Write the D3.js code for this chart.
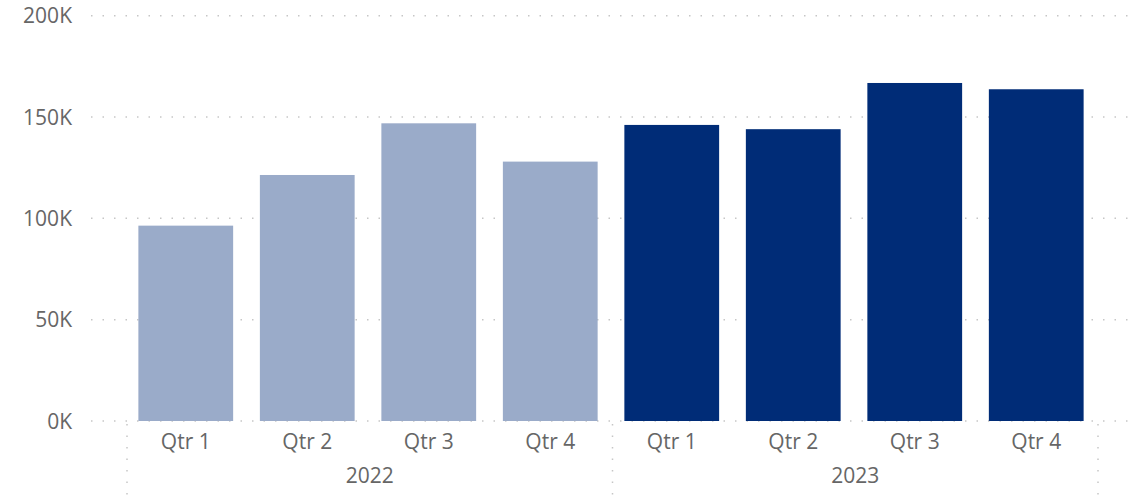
<!DOCTYPE html>
<html>
<head>
<meta charset="utf-8">
<script src="https://cdn.jsdelivr.net/npm/d3@7"></script>
<style>
  html, body { margin: 0; padding: 0; background: #fff; }
  svg { display: block; }
  text { font-family: "Open Sans", "Noto Sans", sans-serif; fill: #666; }
</style>
</head>
<body>
<svg id="chart" width="1137" height="496"></svg>
<script>
const quarters = ["Qtr 1", "Qtr 2", "Qtr 3", "Qtr 4"];
const years = ["2022", "2023"];
const values2022 = [96400, 121400, 146900, 128000];
const values2023 = [146100, 144000, 166800, 163700];
const yTicks = [0, 50000, 100000, 150000, 200000];
const yearColors = ["#9aabc9", "#002c77"];

const data = [];
[values2022, values2023].forEach((vals, yi) => {
  vals.forEach((v, qi) => data.push({ year: years[yi], yi, quarter: quarters[qi], key: years[yi] + "|" + quarters[qi], value: v }));
});

const svg = d3.select("#chart");
const W = 1137, H = 496;
const yBase = 421, yTop = 15.7;
const fontSize = 21;

const x = d3.scaleBand().domain(data.map(d => d.key)).range([125.5, 1096.5]).paddingInner(0.22).paddingOuter(0.106);
const y = d3.scaleLinear().domain([0, 200000]).range([yBase, yTop]);

// gridlines
svg.append("g").selectAll("line").data(yTicks).join("line")
  .attr("x1", 91).attr("x2", W)
  .attr("y1", d => y(d)).attr("y2", d => y(d))
  .attr("stroke", "#c6c6c6").attr("stroke-width", 1.5)
  .attr("stroke-dasharray", "1.5,10");

// y tick labels
const yAxis = d3.axisLeft(y).tickValues(yTicks).tickSize(0).tickPadding(0)
  .tickFormat(d => (d / 1000) + "K");
const yg = svg.append("g").attr("transform", "translate(72,0)").call(yAxis);
yg.select(".domain").remove();
yg.selectAll("text").attr("font-size", fontSize).attr("fill", "#666")
  .attr("font-family", "'Open Sans', 'Noto Sans', sans-serif").attr("dy", "0.34em");

// bars
svg.append("g").selectAll("rect").data(data).join("rect")
  .attr("x", d => x(d.key)).attr("width", x.bandwidth())
  .attr("y", d => y(d.value)).attr("height", d => y(0) - y(d.value))
  .attr("fill", d => yearColors[d.yi]);

// x tick labels (quarters)
const xAxis = d3.axisBottom(x).tickSize(0).tickPadding(0).tickFormat(k => k.split("|")[1]);
const xg = svg.append("g").attr("transform", `translate(0,${yBase})`).call(xAxis);
xg.select(".domain").remove();
xg.selectAll("text").attr("font-size", fontSize).attr("fill", "#666")
  .attr("font-family", "'Open Sans', 'Noto Sans', sans-serif").attr("dy", null).attr("y", 28);

// year group labels and separators
const groupEdges = [127, 612.5, 1098];
svg.append("g").selectAll("line").data(groupEdges).join("line")
  .attr("x1", d => d).attr("x2", d => d)
  .attr("y1", 424).attr("y2", H)
  .attr("stroke", "#c6c6c6").attr("stroke-width", 1.5)
  .attr("stroke-dasharray", "1.5,10");

svg.append("g").selectAll("text").data(years).join("text")
  .attr("x", (d, i) => (groupEdges[i] + groupEdges[i + 1]) / 2)
  .attr("y", 483)
  .attr("text-anchor", "middle").attr("font-size", fontSize).attr("fill", "#666")
  .text(d => d);
</script>
</body>
</html>
